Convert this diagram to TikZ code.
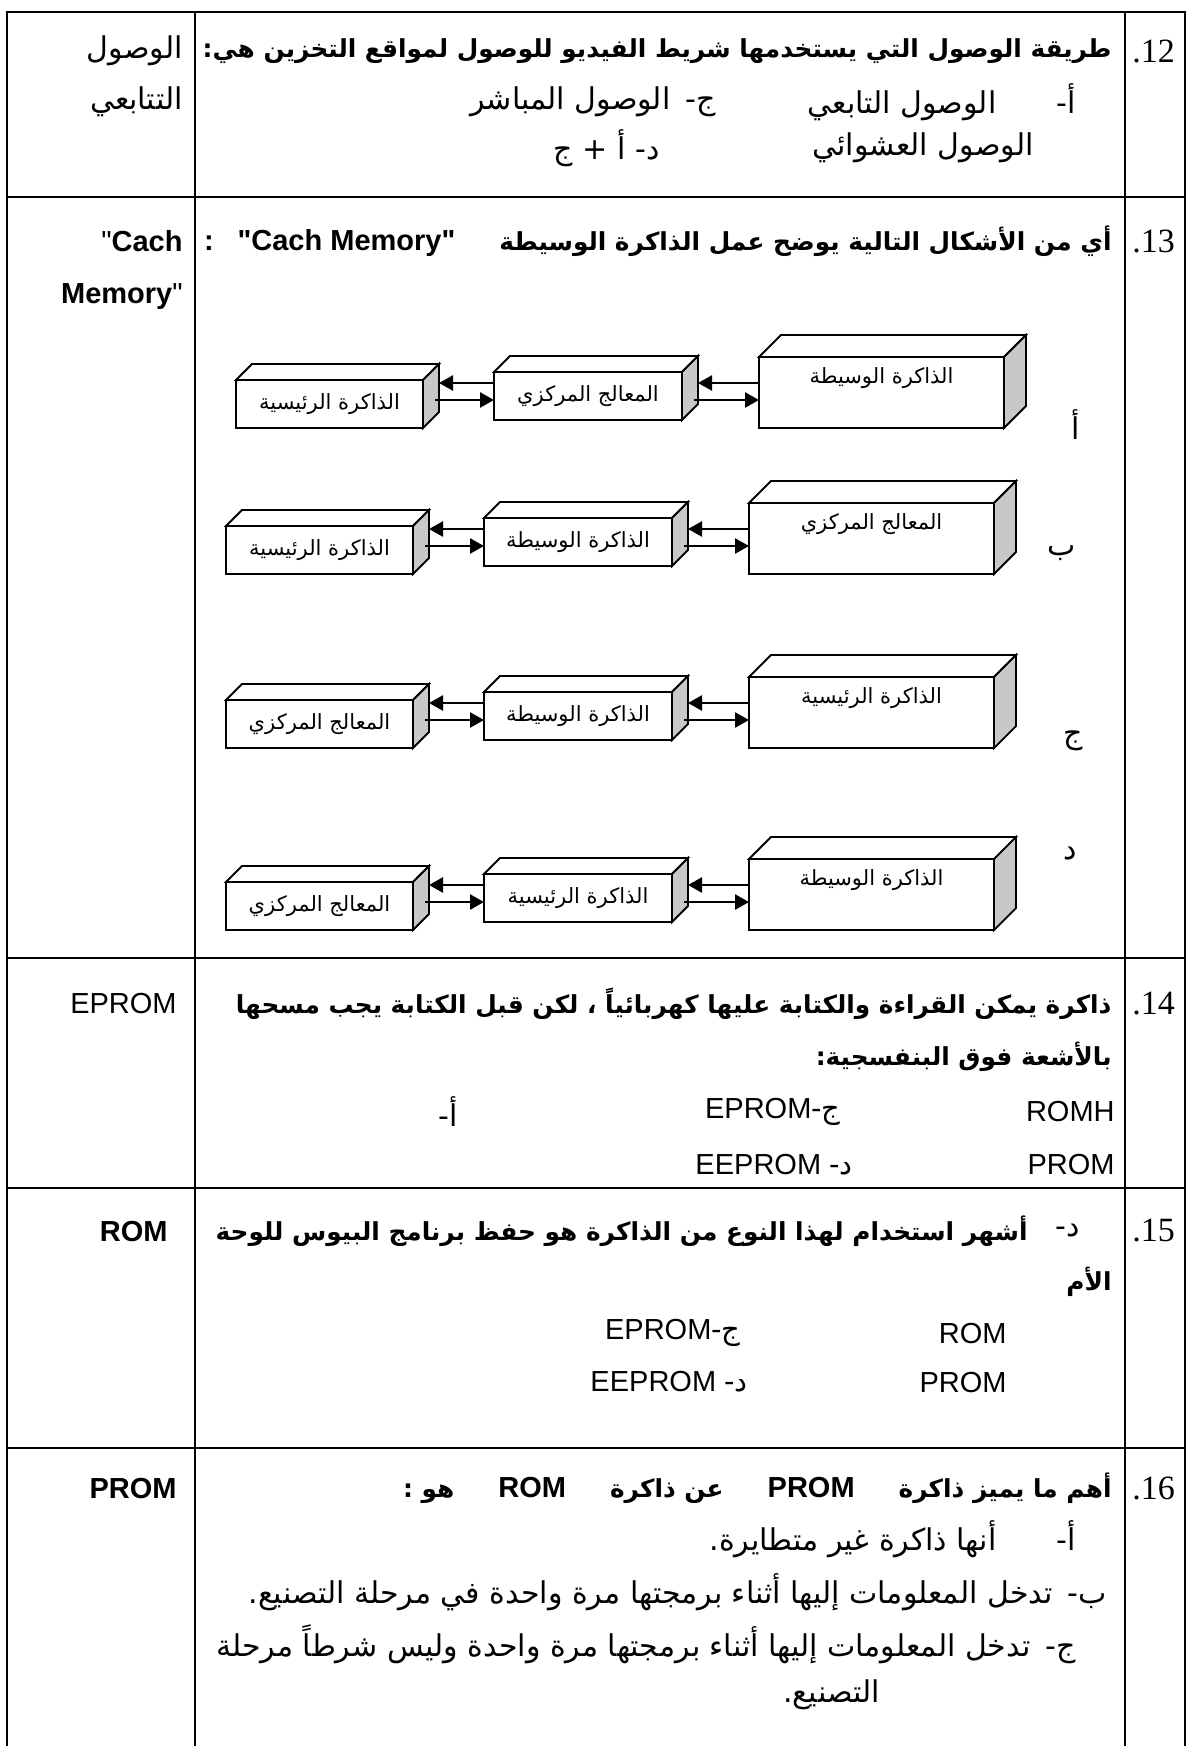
\documentclass[tikz,border=0pt]{standalone}
\usepackage{fontspec}
\setmainfont{Liberation Sans}
\newfontfamily\arabicfont[Script=Arabic]{DejaVu Sans}
\newfontfamily\numfont{Liberation Serif}
\TeXXeTstate=1
\usetikzlibrary{arrows.meta,calc}

\definecolor{sidegray}{RGB}{200,200,200}

\newcommand\ar[1]{{\arabicfont\beginR #1\endR}}
\newcommand\arb[1]{{\arabicfont\bfseries\beginR #1\endR}}
\newcommand\qt{\textquotedbl}
% top and side faces of a block, depth #2
\newcommand\blockfaces[2]{%
  \draw[blockline, fill=white] (#1.north west) -- ++(#2,-#2) -- ($(#1.north east)+(#2,-#2)$) -- (#1.north east) -- cycle;
  \draw[blockline, fill=sidegray] (#1.north east) -- ++(#2,-#2) -- ($(#1.south east)+(#2,-#2)$) -- (#1.south east) -- cycle;
}

\tikzset{
  rule/.style={line width=1.4pt},
  blockline/.style={line width=0.9pt},
  block/.style={draw, blockline, fill=white, inner sep=0pt, outer sep=0pt, font=\fontsize{10.5}{12}\selectfont},
  link/.style={line width=1.3pt, -{Triangle[length=7pt,width=7.5pt]}},
  qtext/.style={anchor=east, inner sep=0pt, font=\fontsize{12.4}{14}\selectfont},
  otext/.style={anchor=east, inner sep=0pt, font=\fontsize{15}{17}\selectfont},
  atext/.style={anchor=east, inner sep=0pt, font=\fontsize{14.5}{17}\selectfont},
  numtext/.style={anchor=west, inner sep=0pt, font=\numfont\fontsize{17}{20}\selectfont},
}

\begin{document}
\begin{tikzpicture}[x=0.5pt,y=-0.5pt]
\useasboundingbox (0,0) rectangle (1200,1746);

% table rules
\def\xl{7}
\def\xr{1185}
\draw[rule] (\xl,1746) -- (\xl,12) -- (\xr,12) -- (\xr,1746);
\foreach \x in {195,1125}
  \draw[rule] (\x,12) -- (\x,1746);
\foreach \y in {197,958,1188,1448}
  \draw[rule] (\xl,\y) -- (\xr,\y);

% question numbers
\foreach \n/\y in {12/51,13/241,14/1004,15/1231,16/1488}
  \node[numtext] (num\n) at (1132,\y) {.\n};

% 12
\node[qtext] (q12) at (1112,51) {\arb{طريقة الوصول التي يستخدمها شريط الفيديو للوصول لمواقع التخزين هي:}};
\node[otext] (q12a) at (1076,102) {\ar{أ-\qquad الوصول التابعي}};
\node[otext] (q12c) at (716,102) {\ar{ج-\enspace الوصول المباشر}};
\node[otext] (q12b) at (1034,148) {\ar{الوصول العشوائي}};
\node[otext] (q12d) at (660,148) {\ar{د- أ + ج}};
\node[otext] (ans12a) at (183,51) {\ar{الوصول}};
\node[otext] (ans12b) at (183,102) {\ar{التتابعي}};

% 13
\node[qtext] (q13) at (1112,241) {{\fontsize{14.5}{17}\selectfont\bfseries :\hspace{12pt}\qt Cach Memory\qt}\hspace{22pt}\arb{أي من الأشكال التالية يوضح عمل الذاكرة الوسيطة}};
\node[atext] (ans13a) at (183,241) {\qt\textbf{Cach}};
\node[atext] (ans13b) at (183,297) {\textbf{Memory}\qt};

\foreach \r/\t/\s/\la/\lb/\lc/\opt/\ox/\oy in {
  a/380/10/الذاكرة الرئيسية/المعالج المركزي/الذاكرة الوسيطة/أ/1076/425,
  b/526/0/الذاكرة الرئيسية/الذاكرة الوسيطة/المعالج المركزي/ب/1062/553,
  c/700/0/المعالج المركزي/الذاكرة الوسيطة/الذاكرة الرئيسية/ج/1073/741,
  d/882/0/المعالج المركزي/الذاكرة الرئيسية/الذاكرة الوسيطة/د/1070/854}
{
  \node[block, minimum width=93.5pt, minimum height=24pt] (\r1) at (319.5+\s,\t+24) {\ar{\la}};
  \node[block, minimum width=94pt, minimum height=24pt] (\r2) at (578+\s,\t+16) {\ar{\lb}};
  \node[block, minimum width=122.5pt, minimum height=35.5pt,
    label={[inner sep=0pt, anchor=north, yshift=-5pt, font=\fontsize{10.5}{12}\selectfont]north:\ar{\lc}}] (\r3) at (871.5+\s,\t+12.5) {};
  \blockfaces{\r1}{16}
  \blockfaces{\r2}{16}
  \blockfaces{\r3}{22}
  \coordinate (up\r) at (0,\t+3);
  \coordinate (lo\r) at (0,\t+20);
  \draw[link] (\r2.west |- up\r) -- ($(\r1.east |- up\r)+(16,0)$);
  \draw[link] ($(\r1.east |- lo\r)+(12,0)$) -- (\r2.west |- lo\r);
  \draw[link] (\r3.west |- up\r) -- ($(\r2.east |- up\r)+(16,0)$);
  \draw[link] ($(\r2.east |- lo\r)+(12,0)$) -- (\r3.west |- lo\r);
  \node[otext, anchor=center] (opt\r) at (\ox,\oy) {\ar{\opt}};
}

% 14
\node[qtext] (q14a) at (1112,1004) {\arb{ذاكرة يمكن القراءة والكتابة عليها كهربائياً ، لكن قبل الكتابة يجب مسحها}};
\node[qtext] (q14b) at (1112,1057) {\arb{بالأشعة فوق البنفسجية:}};
\node[atext] (q14o1) at (1115,1112) {ROMH};
\node[atext] (q14o2) at (841,1112) {EPROM\ar{ج-}};
\node[otext] (q14o3) at (458,1112) {\ar{أ-}};
\node[atext] (q14o4) at (1115,1165) {PROM};
\node[atext] (q14o5) at (853,1165) {EEPROM \ar{د-}};
\node[atext] (ans14) at (177,1004) {EPROM};

% 15
\node[otext] (q15d) at (1080,1231) {\ar{د-}};
\node[qtext] (q15a) at (1028,1231) {\arb{أشهر استخدام لهذا النوع من الذاكرة هو حفظ برنامج البيوس للوحة}};
\node[qtext] (q15b) at (1112,1282) {\arb{الأم}};
\node[atext] (q15o1) at (1007,1333) {ROM};
\node[atext] (q15o2) at (741,1333) {EPROM\ar{ج-}};
\node[atext] (q15o3) at (1007,1382) {PROM};
\node[atext] (q15o4) at (748,1382) {EEPROM \ar{د-}};
\node[atext] (ans15) at (168,1231) {\textbf{ROM}};

% 16
\node[qtext] (q16a) at (1112,1488) {\arb{هو :}\hspace{22pt}{\fontsize{14.5}{17}\selectfont\bfseries ROM}\hspace{22pt}\arb{عن ذاكرة}\hspace{22pt}{\fontsize{14.5}{17}\selectfont\bfseries PROM}\hspace{22pt}\arb{أهم ما يميز ذاكرة}};
\node[otext] (q16b) at (1076,1539) {\ar{أ-\qquad أنها ذاكرة غير متطايرة.}};
\node[otext] (q16c) at (1107,1592) {\ar{ب-\enspace تدخل المعلومات إليها أثناء برمجتها مرة واحدة في مرحلة التصنيع.}};
\node[otext] (q16d) at (1076,1644) {\ar{ج-\enspace تدخل المعلومات إليها أثناء برمجتها مرة واحدة وليس شرطاً مرحلة}};
\node[otext] (q16e) at (880,1695) {\ar{التصنيع.}};
\node[atext] (ans16) at (177,1488) {\textbf{PROM}};
\end{tikzpicture}
\end{document}
